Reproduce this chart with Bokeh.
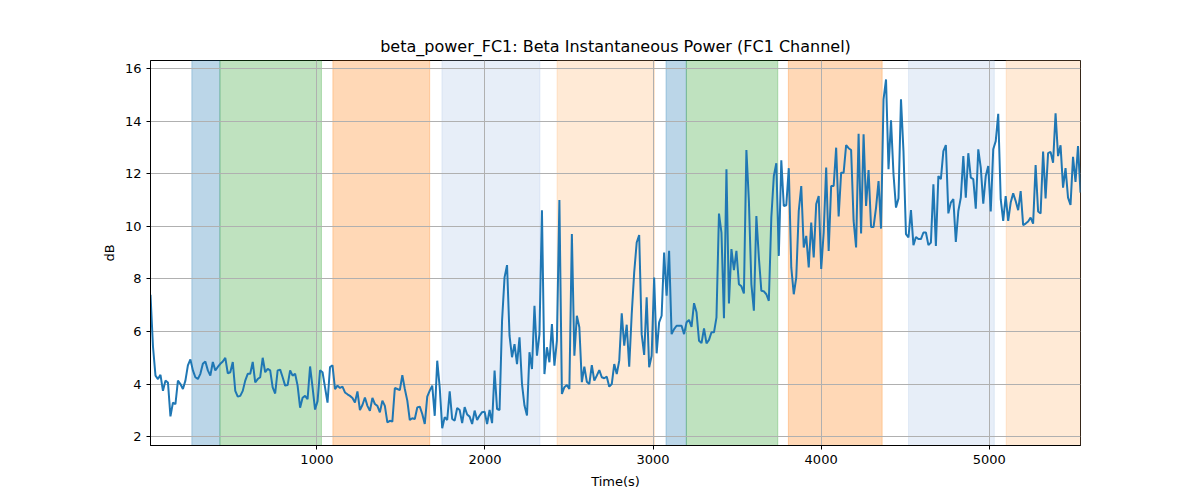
import numpy as np
from bokeh.plotting import figure
from bokeh.models import BoxAnnotation, FixedTicker
from bokeh.embed import file_html
from bokeh.resources import INLINE

# shaded task blocks (seconds)
span_start = [256, 423, 1095, 1744, 2429, 3077, 3198, 3805, 4520, 5101]
span_end = [423, 1027, 1671, 2327, 3008, 3198, 3742, 4363, 5030, 5543]
span_color = ["#1f77b4", "#2ca02c", "#ff7f0e", "#aec7e8", "#ffbb78",
              "#1f77b4", "#2ca02c", "#ff7f0e", "#aec7e8", "#ffbb78"]

# beta power, dB
beta_db = [
    7.4, 5.42, 4.32, 4.19, 4.35, 3.74, 4.13, 4.06, 2.77, 3.29,
    3.23, 4.13, 4.0, 3.81, 4.13, 4.71, 4.94, 4.52, 4.26, 4.19,
    4.39, 4.77, 4.86, 4.52, 4.32, 4.84, 4.52, 4.65, 4.77, 4.86,
    5.0, 4.41, 4.45, 4.84, 3.74, 3.52, 3.55, 3.74, 4.13, 4.39,
    4.39, 4.84, 4.06, 4.19, 4.26, 5.0, 4.45, 4.58, 4.52, 3.87,
    3.64, 4.52, 4.55, 4.26, 3.94, 3.96, 4.52, 4.32, 4.39, 3.94,
    3.1, 3.48, 3.55, 3.42, 4.67, 3.87, 3.03, 3.35, 4.52, 4.45,
    3.87, 3.29, 4.65, 4.71, 3.81, 3.94, 3.85, 3.9, 3.68, 3.61,
    3.55,
    3.47, 3.30, 3.72, 3.01, 3.2, 3.49, 3.17, 2.98, 3.47, 3.24,
    3.17, 2.92, 3.37, 3.17, 2.54, 2.6, 2.57, 3.85, 3.81, 3.77,
    4.34, 3.81, 3.37, 2.63, 2.7, 2.67, 3.11, 3.14, 2.86, 2.48,
    3.52, 3.75, 3.94, 2.79, 4.89, 3.87, 2.32,
    2.74, 2.63, 3.72, 2.67, 2.61, 3.09, 3.01, 2.51, 3.12, 2.84,
    2.76, 2.48, 2.99, 2.63, 2.8, 2.93, 2.95, 2.48, 3.01, 2.51,
    4.51, 3.05, 3.01, 6.41, 8.06, 8.53, 5.84, 5.02, 5.52, 4.76,
    5.78, 4.0, 3.18, 2.8, 5.21, 4.57, 6.98, 5.08, 5.9, 10.62,
    4.38, 5.4, 4.83, 6.28, 4.7, 5.65, 11.01, 3.62, 3.88, 3.96,
    3.81, 9.71, 5.08, 6.6, 6.16, 4.07, 4.66, 4.09, 4.0, 4.72,
    4.13, 4.32, 4.53, 4.26, 4.22, 4.28, 3.9, 4.0, 4.76, 4.38,
    4.89, 6.69, 5.46, 6.26, 4.66, 6.66, 8.25, 9.39, 9.67, 5.9,
    5.11, 7.3, 4.64, 5.08, 8.06, 5.17, 6.35, 6.6, 9.01, 7.36,
    9.07, 5.9, 6.09, 6.22, 6.22, 6.22, 5.9, 6.35, 6.44, 6.18,
    7.08, 6.73, 5.65, 5.56, 6.12, 5.55, 5.68, 5.97, 5.97, 6.54,
    10.49, 9.77, 6.51, 12.18, 7.07, 9.14, 8.34, 9.07, 7.8, 7.72,
    7.45,
    12.91, 10.97, 7.8, 6.79, 10.4, 8.82, 7.55, 7.53, 7.42, 7.17,
    10.34, 11.92, 12.41, 8.88, 12.52, 10.78, 10.81, 12.22, 8.44, 7.42,
    8.06, 10.59, 11.54, 9.2, 9.64, 8.44, 10.15, 8.82, 10.85, 11.16,
    8.38, 9.77, 12.24, 9.07, 11.54, 11.54, 13.0, 10.38, 12.05, 12.05,
    13.1, 12.98, 12.91, 10.21, 9.2, 13.53, 9.73, 13.51, 10.78, 12.15,
    9.98, 9.98, 10.72, 11.73, 9.92, 14.84, 15.6, 12.18, 14.04, 11.99,
    10.72, 11.07, 14.84, 12.87, 9.71, 9.58, 10.62, 9.29, 9.6, 9.52,
    9.52, 9.77, 9.77, 9.29, 9.39, 11.61, 9.26, 11.92, 11.8, 12.87,
    13.1, 10.5, 10.91, 11.04, 9.41, 10.59, 11.1, 12.68, 11.1, 12.79,
    11.86, 11.8, 10.68, 12.94, 12.24, 10.87, 11.92, 12.3, 10.57, 12.94,
    13.25, 14.29, 11.04, 10.21, 11.16, 10.21, 10.91, 11.26, 10.97, 10.62,
    11.35, 10.05, 10.11, 10.19, 10.34, 10.11, 12.34, 10.57, 10.5, 12.85,
    11.07, 12.79, 12.84, 12.43, 14.31, 12.68, 13.09, 11.48, 12.22, 11.1,
    10.82, 12.65, 11.7, 13.06, 11.29,
]
time_s = np.linspace(10, 5543, len(beta_db))

x_ticks = [1000, 2000, 3000, 4000, 5000]
y_ticks = [2, 4, 6, 8, 10, 12, 14, 16]

p = figure(
    title="beta_power_FC1: Beta Instantaneous Power (FC1 Channel)",
    frame_width=930, frame_height=385,
    min_border_left=150, min_border_right=112,
    min_border_top=60, min_border_bottom=47,
    x_range=(10, 5543), y_range=(1.66, 16.32),
    output_backend="svg", toolbar_location=None,
)

for s, e, c in zip(span_start, span_end, span_color):
    p.add_layout(BoxAnnotation(left=s, right=e, fill_color=c, fill_alpha=0.3,
                               line_color=c, line_alpha=0.3, line_width=1,
                               level="image"))

p.line(time_s, beta_db, line_color="#1f77b4", line_width=2)

p.title.align = "center"
p.title.text_font = "DejaVu Sans"
p.title.text_font_size = "16px"
p.title.text_font_style = "normal"
p.title.text_color = "black"

p.xaxis.ticker = FixedTicker(ticks=x_ticks)
p.yaxis.ticker = FixedTicker(ticks=y_ticks)
p.xaxis.axis_label = "Time(s)"
p.yaxis.axis_label = "dB"
for ax in p.xaxis + p.yaxis:
    ax.axis_label_text_font = "DejaVu Sans"
    ax.axis_label_text_font_size = "13px"
    ax.axis_label_text_font_style = "normal"
    ax.axis_label_text_color = "black"
    ax.major_label_text_font = "DejaVu Sans"
    ax.major_label_text_font_size = "13px"
    ax.major_label_text_color = "black"
    ax.axis_line_color = "black"
    ax.major_tick_line_color = "black"
    ax.major_tick_in = 0
    ax.major_tick_out = 4
    ax.minor_tick_line_color = None
p.xaxis.axis_label_standoff = 7

p.grid.grid_line_color = "#b0b0b0"
p.grid.grid_line_width = 1
p.outline_line_color = "black"
p.outline_line_alpha = 1

open("out.html", "w").write(file_html(p, INLINE))
